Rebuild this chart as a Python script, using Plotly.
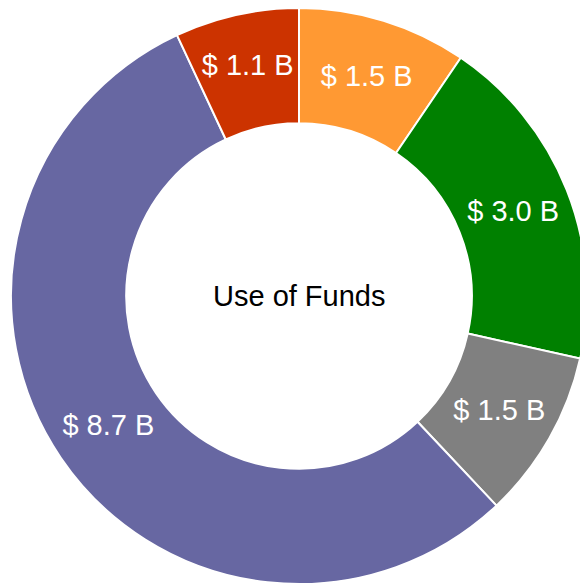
import plotly.graph_objects as go

labels = ["Category A", "Category B", "Category C", "Category D", "Category E"]
values = [1.5, 3.0, 1.5, 8.7, 1.1]
text_labels = ["$ 1.5 B", "$ 3.0 B", "$ 1.5 B", "$ 8.7 B", "$ 1.1 B"]
colors = ["#FF9933", "#008000", "#808080", "#6767A2", "#CC3300"]
center_title = "Use of Funds"

fig = go.Figure(
    go.Pie(
        labels=labels,
        values=values,
        text=text_labels,
        textinfo="text",
        textposition="inside",
        insidetextorientation="horizontal",
        hole=0.6,
        sort=False,
        direction="clockwise",
        rotation=0,
        marker=dict(colors=colors, line=dict(color="white", width=2)),
        textfont=dict(color="white", size=29, family="Arial, Liberation Sans, sans-serif"),
        hoverinfo="skip",
        showlegend=False,
    )
)

fig.add_annotation(
    text=center_title,
    x=0.5, y=0.5, xref="paper", yref="paper",
    showarrow=False,
    font=dict(color="black", size=29, family="Arial, Liberation Sans, sans-serif"),
)

fig.update_layout(
    width=590,
    height=584,
    margin=dict(l=11, r=3, t=8, b=0),
    paper_bgcolor="white",
    plot_bgcolor="white",
)

fig.write_html(
    "out.html",
    config={"displayModeBar": False},
    post_script=(
        "document.body.style.margin='0';"
        "document.body.style.overflow='hidden';"
        "document.documentElement.style.overflow='hidden';"
    ),
)
